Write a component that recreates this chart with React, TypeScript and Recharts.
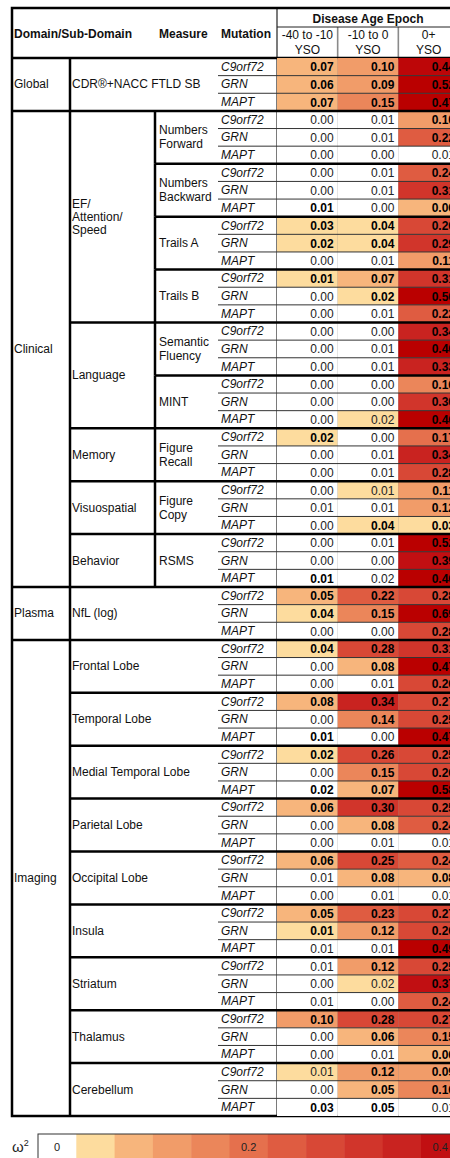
import React from 'react'
import { ScatterChart, Scatter, XAxis, YAxis, Customized } from 'recharts'

const FONT = '"Liberation Sans", Arial, sans-serif'

const epochs = ['-40 to -10', '-10 to 0', '0+']
const mutations = ['C9orf72', 'GRN', 'MAPT']

// [label, number of measures]
const domainGroups: [string, number][] = [
  ['Global', 1],
  ['Clinical', 9],
  ['Plasma', 1],
  ['Imaging', 9],
]

const subDomainGroups: [string, number][] = [
  ['CDR®+NACC FTLD SB', 1],
  ['EF/\nAttention/\nSpeed', 4],
  ['Language', 2],
  ['Memory', 1],
  ['Visuospatial', 1],
  ['Behavior', 1],
  ['NfL (log)', 1],
  ['Frontal Lobe', 1],
  ['Temporal Lobe', 1],
  ['Medial Temporal Lobe', 1],
  ['Parietal Lobe', 1],
  ['Occipital Lobe', 1],
  ['Insula', 1],
  ['Striatum', 1],
  ['Thalamus', 1],
  ['Cerebellum', 1],
]

const measures = [
  '',
  'Numbers\nForward', 'Numbers\nBackward', 'Trails A', 'Trails B',
  'Semantic\nFluency', 'MINT', 'Figure\nRecall', 'Figure\nCopy', 'RSMS',
  '',
  '', '', '', '', '', '', '', '', '',
]

// omega^2 per row (3 mutations per measure)
const early = [
  0.07, 0.06, 0.07, 0.00, 0.00, 0.00, 0.00, 0.00, 0.01, 0.03, 0.02, 0.00,
  0.01, 0.00, 0.00, 0.00, 0.00, 0.00, 0.00, 0.00, 0.00, 0.02, 0.00, 0.00,
  0.00, 0.01, 0.00, 0.00, 0.00, 0.01, 0.05, 0.04, 0.00, 0.04, 0.00, 0.00,
  0.08, 0.00, 0.01, 0.02, 0.00, 0.02, 0.06, 0.00, 0.00, 0.06, 0.01, 0.00,
  0.05, 0.01, 0.01, 0.01, 0.00, 0.01, 0.10, 0.00, 0.00, 0.01, 0.00, 0.03,
]
const late = [
  0.10, 0.09, 0.15, 0.01, 0.01, 0.00, 0.01, 0.01, 0.00, 0.04, 0.04, 0.01,
  0.07, 0.02, 0.01, 0.00, 0.01, 0.01, 0.00, 0.00, 0.02, 0.00, 0.01, 0.01,
  0.01, 0.01, 0.04, 0.01, 0.00, 0.02, 0.22, 0.15, 0.00, 0.28, 0.08, 0.01,
  0.34, 0.14, 0.00, 0.26, 0.15, 0.07, 0.30, 0.08, 0.01, 0.25, 0.08, 0.01,
  0.23, 0.12, 0.01, 0.12, 0.02, 0.00, 0.28, 0.06, 0.01, 0.12, 0.05, 0.05,
]
const post = [
  0.44, 0.52, 0.47, 0.10, 0.22, 0.01, 0.24, 0.31, 0.06, 0.26, 0.29, 0.11,
  0.31, 0.50, 0.22, 0.34, 0.46, 0.33, 0.16, 0.30, 0.46, 0.17, 0.34, 0.28,
  0.11, 0.12, 0.03, 0.52, 0.39, 0.46, 0.28, 0.69, 0.28, 0.31, 0.47, 0.26,
  0.27, 0.25, 0.47, 0.25, 0.26, 0.58, 0.25, 0.24, 0.01, 0.24, 0.08, 0.01,
  0.27, 0.26, 0.49, 0.25, 0.37, 0.24, 0.27, 0.15, 0.06, 0.09, 0.16, 0.01,
]

// 1 = bold (significant), per row
const earlyBold = '111 000 001 110 100 000 000 100 000 001 110 100 101 101 100 100 110 000 100 001'
const lateBold = '111 000 000 110 110 000 000 000 001 000 110 110 110 111 110 110 110 100 110 111'
const postBold = '111 110 111 111 111 111 111 111 111 111 111 111 111 111 110 110 111 111 111 110'
// 1 = cell shaded
const earlyShade = '111 000 000 110 100 000 000 100 000 000 110 100 100 100 100 100 110 000 100 100'
const lateShade = '111 000 000 110 110 000 001 000 101 000 110 110 110 111 110 110 110 110 110 110'
const postShade = '111 110 111 111 111 111 111 111 111 111 111 111 111 111 110 110 111 111 111 110'

const palette = [
  '#FFFFFF', '#FDDC9E', '#F7B57C', '#F19C69', '#EB865A', '#E5704D', '#DF5C41',
  '#D84836', '#D1352B', '#C92320', '#C10F12', '#BD0608', '#BA0000',
]

const flags = (s: string) => s.replace(/ /g, '').split('').map(c => c === '1')

const columns = [
  { values: early, bold: flags(earlyBold), shade: flags(earlyShade) },
  { values: late, bold: flags(lateBold), shade: flags(lateShade) },
  { values: post, bold: flags(postBold), shade: flags(postShade) },
]

const cells = columns.flatMap((c, col) =>
  c.values.map((value, row) => ({ col, row, value, bold: c.bold[row], shaded: c.shade[row] }))
)

const ROWS = early.length

function colorFor(v: number) {
  const k = Math.max(1, Math.ceil(Math.round(v * 100) / 4))
  return palette[Math.min(k, palette.length - 1)]
}

// chart geometry
const W = 480
const H = 1158
const margin = { top: 8, right: 21, bottom: 42, left: 12 }
const AX = { dom: 58, sub: 85, measure: 63, mut: 59 }
const HEAD_H = 50
const PLOT_LEFT = margin.left + AX.dom + AX.sub + AX.measure + AX.mut
const PLOT_TOP = margin.top + HEAD_H
const PLOT_W = W - margin.right - PLOT_LEFT
const PLOT_H = H - margin.bottom - PLOT_TOP
const CW = PLOT_W / 3
const RH = PLOT_H / ROWS
const RIGHT_X = W
const BOTTOM = PLOT_TOP + PLOT_H

// group boundaries in measure units
const cum = (g: [string, number][]) => g.reduce<number[]>((a, [, n]) => [...a, (a[a.length - 1] || 0) + n], [])
const domainEnds = cum(domainGroups)
const subEnds = cum(subDomainGroups)

function boundaryLeft(r: number) {
  if (r % 3 !== 2) return margin.left + AX.dom + AX.sub + AX.measure
  const m = (r + 1) / 3
  if (domainEnds.includes(m)) return margin.left
  if (subEnds.includes(m)) return margin.left + AX.dom
  return margin.left + AX.dom + AX.sub
}

const rowTicks = [
  ...Array.from({ length: ROWS }, (_, i) => i),
  ...Array.from({ length: ROWS - 1 }, (_, i) => i + 0.5),
]

const centers = (g: [string, number][]) => {
  let start = 0
  return g.map(([, n]) => {
    const c = start * 3 + (n * 3 - 1) / 2
    start += n
    return c
  })
}
const domainCenters = centers(domainGroups)
const subCenters = centers(subDomainGroups)
const measureCenters = measures.map((m, i) => i * 3 + 1).filter((_, i) => measures[i] !== '')

function MultiLine({ x, y, text, bold = false, lh = 14 }: any) {
  const lines = text.split('\n')
  return (
    <text x={x} y={y + 4 - ((lines.length - 1) * lh) / 2} fontSize={12} fontFamily={FONT} fill="#111" fontWeight={bold ? 'bold' : 'normal'}>
      {lines.map((l: string, i: number) => (
        <tspan key={i} x={x} dy={i === 0 ? 0 : lh}>{l}</tspan>
      ))}
    </text>
  )
}

function MutationTick({ x, y, payload }: any) {
  const v = payload.value
  if (Number.isInteger(v)) {
    return (
      <text x={x - 56} y={y + 4} fontSize={12} fontStyle="italic" fontFamily={FONT} fill="#111">
        {mutations[v % 3]}
      </text>
    )
  }
  const r = Math.floor(v)
  const thin = r % 3 !== 2
  return (
    <line x1={boundaryLeft(r)} x2={RIGHT_X} y1={y} y2={y} stroke={thin ? '#333' : '#000'} strokeWidth={thin ? 1 : 2.5} />
  )
}

function MeasureTick({ x, y, payload }: any) {
  const idx = (payload.value - 1) / 3
  return (
    <g>
      <line x1={x - AX.measure} x2={x - AX.measure} y1={y - 1.5 * RH} y2={y + 1.5 * RH} stroke="#000" strokeWidth={2.5} />
      <MultiLine x={x - AX.measure + 4} y={y} text={measures[idx]} />
    </g>
  )
}

function SubTick({ x, y, payload }: any) {
  const i = subCenters.indexOf(payload.value)
  return <MultiLine x={x - AX.sub + 2} y={y} text={subDomainGroups[i][0]} lh={13} />
}

function DomainTick({ x, y, payload }: any) {
  const i = domainCenters.indexOf(payload.value)
  return <MultiLine x={x - AX.dom + 2} y={y} text={domainGroups[i][0]} />
}

function EpochTick({ x, y, payload }: any) {
  return (
    <text textAnchor="middle" fontSize={12} fontFamily={FONT} fill="#111">
      <tspan x={x} y={y - 19}>{epochs[payload.value]}</tspan>
      <tspan x={x} y={y - 4}>YSO</tspan>
    </text>
  )
}

function HeatCell(props: any) {
  const { cx, cy, payload } = props
  if (cx == null || cy == null) return null
  const fill = payload.shaded ? colorFor(payload.value) : '#FFFFFF'
  return (
    <g>
      <rect x={cx - CW / 2} y={cy - RH / 2} width={CW} height={RH} fill={fill} />
      <text
        x={cx + CW / 2 - 4}
        y={cy + 4.5}
        textAnchor="end"
        fontSize={12}
        fontFamily={FONT}
        fontWeight={payload.bold ? 'bold' : 'normal'}
        fill={payload.bold ? '#000' : '#222'}
      >
        {payload.value.toFixed(2)}
      </text>
    </g>
  )
}

function Frame() {
  const left = margin.left
  const top = margin.top
  const legendTop = 1134
  const legendX = 38
  const legendCell = 38.3
  return (
    <g>
      {[1, 2].map(i => (
        <line key={i} x1={PLOT_LEFT + i * CW} x2={PLOT_LEFT + i * CW} y1={27} y2={BOTTOM} stroke="#8a8a8a" strokeWidth={1.6} />
      ))}
      <line x1={PLOT_LEFT} x2={PLOT_LEFT} y1={top} y2={BOTTOM} stroke="#222" strokeWidth={1.2} />
      <line x1={PLOT_LEFT} x2={RIGHT_X} y1={27} y2={27} stroke="#222" strokeWidth={1} />
      <line x1={left + AX.dom} x2={left + AX.dom} y1={PLOT_TOP} y2={BOTTOM} stroke="#000" strokeWidth={2.5} />
      <line x1={left} x2={RIGHT_X} y1={PLOT_TOP} y2={PLOT_TOP} stroke="#000" strokeWidth={2.5} />
      <rect x={left} y={top} width={RIGHT_X} height={BOTTOM - top} fill="none" stroke="#000" strokeWidth={2.5} />

      <text fontSize={12} fontWeight="bold" fontFamily={FONT} fill="#111">
        <tspan x={14} y={38}>Domain/Sub-Domain</tspan>
        <tspan x={159} y={38}>Measure</tspan>
        <tspan x={221} y={38}>Mutation</tspan>
      </text>
      <text x={PLOT_LEFT + PLOT_W / 2} y={23} textAnchor="middle" fontSize={12} fontWeight="bold" fontFamily={FONT} fill="#111">
        Disease Age Epoch
      </text>

      {/* colour key */}
      <text x={12} y={1152} fontSize={15} fontFamily={FONT} fill="#222">
        ω<tspan dy={-6} fontSize={9}>2</tspan>
      </text>
      {palette.map((c, i) => (
        <rect key={i} x={legendX + i * legendCell} y={legendTop} width={legendCell + 0.5} height={40} fill={c} />
      ))}
      <rect x={legendX} y={legendTop} width={palette.length * legendCell} height={40} fill="none" stroke="#333" strokeWidth={1} />
      {[[0, '0'], [5, '0.2'], [10, '0.4']].map(([i, t]) => (
        <text key={t as string} x={legendX + (i as number) * legendCell + legendCell / 2} y={1151} textAnchor="middle" fontSize={11} fontFamily={FONT} fill="#222">
          {t}
        </text>
      ))}
    </g>
  )
}

export default function App() {
  return (
    <div style={{ position: 'absolute', left: 0, top: 0, width: 450, height: 1158, overflow: 'hidden', background: '#fff' }}>
      <ScatterChart width={W} height={H} margin={margin}>
        <XAxis
          xAxisId="epoch"
          orientation="top"
          type="number"
          dataKey="col"
          domain={[-0.5, 2.5]}
          ticks={[0, 1, 2]}
          interval={0}
          height={HEAD_H}
          axisLine={false}
          tickLine={false}
          tickSize={0}
          tickMargin={0}
          tick={<EpochTick />}
        />
        {/* left axes are stacked outward in id order */}
        <YAxis
          yAxisId="a_mutation"
          type="number"
          dataKey="row"
          domain={[-0.5, ROWS - 0.5]}
          reversed
          ticks={rowTicks}
          interval={0}
          width={AX.mut}
          axisLine={false}
          tickLine={false}
          tickSize={0}
          tickMargin={0}
          tick={<MutationTick />}
        />
        <YAxis
          yAxisId="b_measure"
          type="number"
          domain={[-0.5, ROWS - 0.5]}
          allowDataOverflow
          reversed
          ticks={measureCenters}
          interval={0}
          width={AX.measure}
          axisLine={false}
          tickLine={false}
          tickSize={0}
          tickMargin={0}
          tick={<MeasureTick />}
        />
        <YAxis
          yAxisId="c_subdomain"
          type="number"
          domain={[-0.5, ROWS - 0.5]}
          allowDataOverflow
          reversed
          ticks={subCenters}
          interval={0}
          width={AX.sub}
          axisLine={false}
          tickLine={false}
          tickSize={0}
          tickMargin={0}
          tick={<SubTick />}
        />
        <YAxis
          yAxisId="d_domain"
          type="number"
          domain={[-0.5, ROWS - 0.5]}
          allowDataOverflow
          reversed
          ticks={domainCenters}
          interval={0}
          width={AX.dom}
          axisLine={false}
          tickLine={false}
          tickSize={0}
          tickMargin={0}
          tick={<DomainTick />}
        />
        <Scatter data={cells} xAxisId="epoch" yAxisId="a_mutation" shape={<HeatCell />} isAnimationActive={false} />
        <Customized component={Frame} />
      </ScatterChart>
    </div>
  )
}
